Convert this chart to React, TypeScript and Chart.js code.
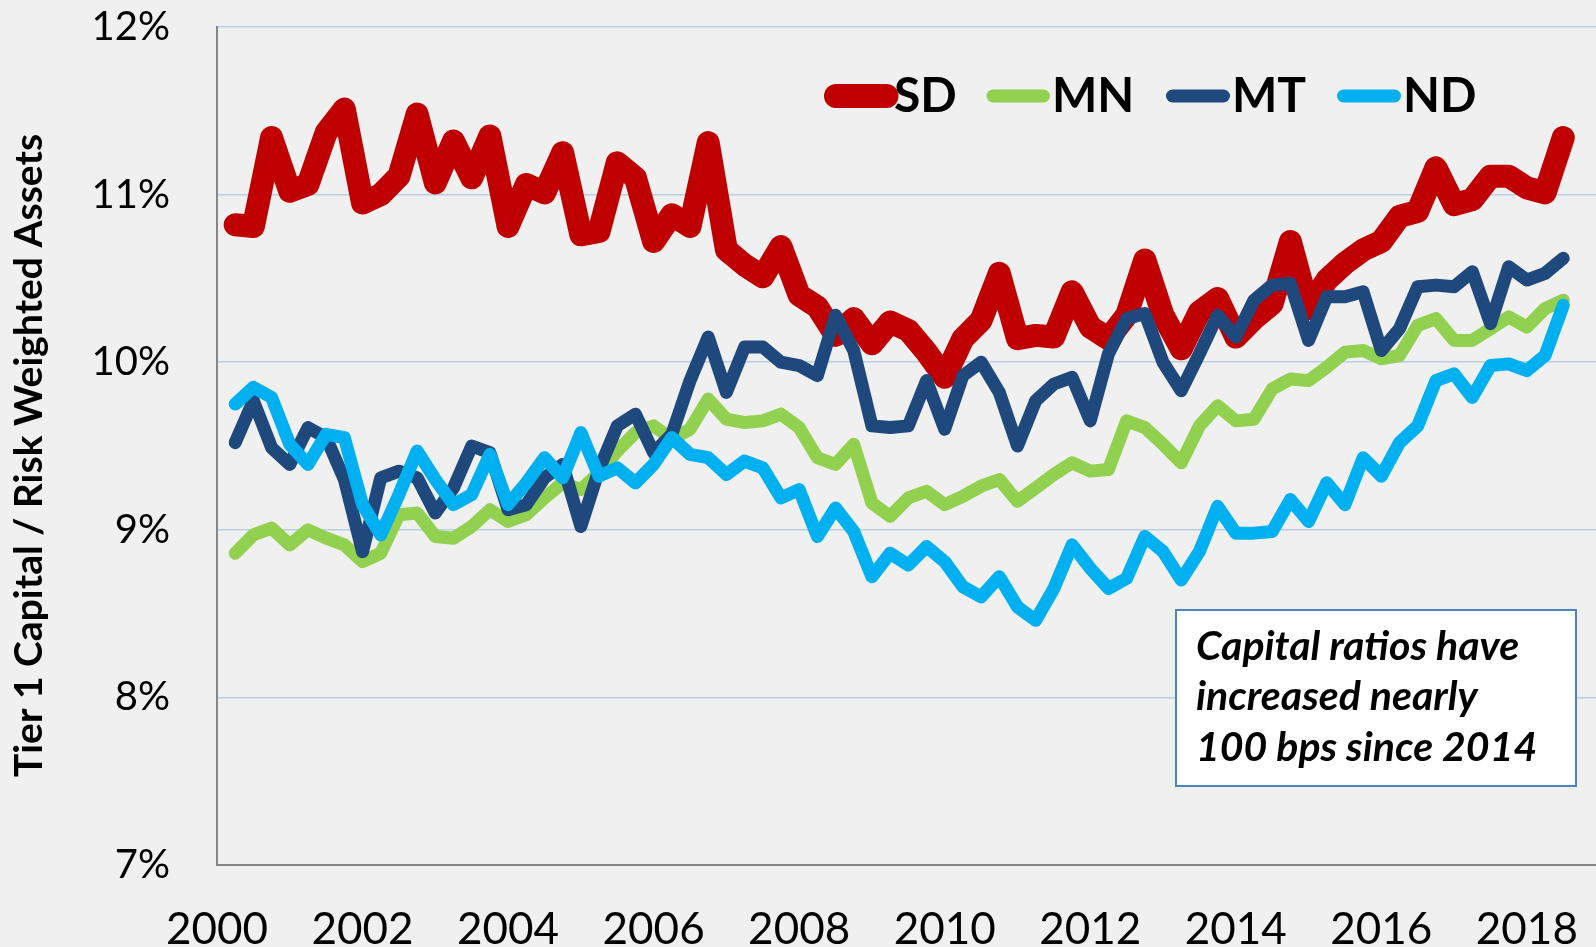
import React, { useEffect, useRef } from "react";
import { Chart, registerables } from "chart.js";

Chart.register(...registerables);

// ---- Data -------------------------------------------------------------
const firstYear = 2000;
const quarterCount = 74; // 2000 Q1 .. 2018 Q2
const quarters: number[] = Array.from({ length: quarterCount }, (_, i) => firstYear + 0.25 * (i + 1));

const xTickYears = [2000, 2002, 2004, 2006, 2008, 2010, 2012, 2014, 2016, 2018];
const yTickValues = [7, 8, 9, 10, 11, 12];

const seriesNames = ["SD", "MN", "MT", "ND"];
const seriesColors = ["#C00000", "#92D050", "#1F497D", "#00B0F0"];

const SD = [
  10.82, 10.81, 11.34, 11.02, 11.06, 11.37, 11.51, 10.95, 11.0, 11.11,
  11.48, 11.07, 11.32, 11.1, 11.35, 10.81, 11.06, 11.01, 11.25, 10.76,
  10.78, 11.19, 11.1, 10.72, 10.88, 10.81, 11.31, 10.67, 10.58, 10.51,
  10.69, 10.4, 10.33, 10.16, 10.26, 10.11, 10.24, 10.19, 10.06, 9.91,
  10.14, 10.25, 10.53, 10.14, 10.16, 10.15, 10.42, 10.21, 10.14, 10.28,
  10.61, 10.28, 10.08, 10.3, 10.38, 10.15, 10.26, 10.35, 10.72, 10.32,
  10.49, 10.59, 10.67, 10.72, 10.87, 10.9, 11.16, 10.94, 10.97, 11.11,
  11.11, 11.04, 11.01, 11.34,
];

const MN = [
  8.86, 8.97, 9.01, 8.91, 9.0, 8.95, 8.91, 8.81, 8.86, 9.09,
  9.1, 8.96, 8.95, 9.02, 9.12, 9.05, 9.09, 9.19, 9.28, 9.24,
  9.34, 9.47, 9.58, 9.62, 9.54, 9.6, 9.78, 9.66, 9.64, 9.65,
  9.69, 9.61, 9.43, 9.39, 9.51, 9.16, 9.08, 9.19, 9.23, 9.15,
  9.2, 9.26, 9.3, 9.17, 9.25, 9.33, 9.4, 9.35, 9.36, 9.65,
  9.61, 9.51, 9.4, 9.62, 9.74, 9.65, 9.66, 9.84, 9.9, 9.89,
  9.97, 10.06, 10.07, 10.02, 10.04, 10.22, 10.26, 10.13, 10.13, 10.2,
  10.27, 10.21, 10.32, 10.37,
];

const MT = [
  9.52, 9.77, 9.49, 9.39, 9.61, 9.55, 9.3, 8.87, 9.31, 9.35,
  9.31, 9.1, 9.25, 9.5, 9.46, 9.12, 9.15, 9.31, 9.39, 9.02,
  9.36, 9.62, 9.69, 9.46, 9.57, 9.89, 10.15, 9.82, 10.09, 10.09,
  10.0, 9.98, 9.92, 10.28, 10.07, 9.62, 9.61, 9.62, 9.89, 9.6,
  9.92, 10.0, 9.82, 9.5, 9.77, 9.87, 9.91, 9.65, 10.05, 10.26,
  10.29, 10.0, 9.83, 10.05, 10.28, 10.15, 10.37, 10.46, 10.47, 10.13,
  10.39, 10.39, 10.42, 10.07, 10.2, 10.45, 10.46, 10.45, 10.54, 10.23,
  10.57, 10.49, 10.53, 10.62,
];

const ND = [
  9.75, 9.85, 9.79, 9.51, 9.39, 9.57, 9.55, 9.15, 8.97, 9.21,
  9.47, 9.3, 9.15, 9.21, 9.45, 9.15, 9.28, 9.43, 9.31, 9.58,
  9.32, 9.37, 9.28, 9.39, 9.55, 9.45, 9.43, 9.33, 9.41, 9.37,
  9.19, 9.24, 8.96, 9.13, 8.99, 8.72, 8.86, 8.79, 8.9, 8.81,
  8.66, 8.6, 8.72, 8.54, 8.46, 8.65, 8.91, 8.77, 8.65, 8.71,
  8.96, 8.87, 8.7, 8.87, 9.14, 8.98, 8.98, 8.99, 9.18, 9.05,
  9.28, 9.15, 9.43, 9.32, 9.52, 9.62, 9.89, 9.93, 9.79, 9.98,
  9.99, 9.95, 10.04, 10.34,
];

const seriesValues = [SD, MN, MT, ND];
const seriesWidths = [23, 13, 13, 13];

const yAxisTitle = "Tier 1 Capital / Risk Weighted Assets";
const noteLines = ["Capital ratios have", "increased nearly", "100 bps since 2014"];

// ---- Plugins -----------------------------------------------------------
const bgPlugin = {
  id: "bgFill",
  beforeDraw(chart: any) {
    const { ctx, width, height } = chart;
    ctx.save();
    ctx.fillStyle = "#F0F0F0";
    ctx.fillRect(0, 0, width, height);
    ctx.restore();
  },
};

const legendPlugin = {
  id: "lineLegend",
  afterDraw(chart: any) {
    const ctx = chart.ctx;
    const lineStarts = [836, 993, 1172.5, 1343.5];
    const lineEnds = [886.5, 1043.5, 1223.5, 1394.5];
    const textStarts = [894, 1052, 1232, 1403];
    const lineY = 96;
    ctx.save();
    seriesNames.forEach((name, i) => {
      ctx.beginPath();
      ctx.strokeStyle = seriesColors[i];
      ctx.lineWidth = i === 0 ? 24 : 13;
      ctx.lineCap = "round";
      ctx.moveTo(lineStarts[i], lineY);
      ctx.lineTo(lineEnds[i], lineY);
      ctx.stroke();
      ctx.fillStyle = "#000";
      ctx.font = "bold 48px Lato";
      ctx.textBaseline = "alphabetic";
      ctx.textAlign = "left";
      ctx.fillText(name, textStarts[i], 112);
    });
    ctx.restore();
  },
};

const notePlugin = {
  id: "noteBox",
  afterDraw(chart: any) {
    const ctx = chart.ctx;
    ctx.save();
    ctx.fillStyle = "#FFFFFF";
    ctx.fillRect(1176, 610, 400, 176);
    ctx.strokeStyle = "#4F81BD";
    ctx.lineWidth = 2;
    ctx.strokeRect(1176, 610, 400, 176);
    ctx.fillStyle = "#000";
    ctx.font = "italic bold 41px Lato";
    ctx.textAlign = "left";
    ctx.textBaseline = "alphabetic";
    const baselines = [660, 710, 761];
    noteLines.forEach((t, i) => ctx.fillText(t, 1196, baselines[i]));
    ctx.restore();
  },
};

export default function App() {
  const canvasRef = useRef<HTMLCanvasElement | null>(null);

  useEffect(() => {
    if (!canvasRef.current) return;
    const datasets = seriesNames.map((name, i) => ({
      label: name,
      data: quarters.map((q, k) => ({ x: q, y: seriesValues[i][k] })),
      borderColor: seriesColors[i],
      backgroundColor: seriesColors[i],
      borderWidth: seriesWidths[i],
      borderJoinStyle: "round" as const,
      borderCapStyle: "round" as const,
      pointRadius: 0,
      tension: 0,
      fill: false,
      order: seriesNames.length - i,
    }));

    const chart = new Chart(canvasRef.current, {
      type: "line",
      data: { datasets },
      options: {
        responsive: false,
        animation: false,
        events: [],
        layout: { autoPadding: false, padding: { top: 27, left: 0, right: 0, bottom: 0 } },
        plugins: { legend: { display: false }, tooltip: { enabled: false } },
        scales: {
          x: {
            type: "linear",
            min: 2000,
            max: 2018.95,
            afterBuildTicks: (s: any) => {
              s.ticks = xTickYears.map((v) => ({ value: v }));
            },
            afterFit: (s: any) => {
              s.height = 82;
              s.paddingLeft = 0;
              s.paddingRight = 0;
            },
            ticks: {
              callback: (v: any) => String(v),
              font: { family: "Lato", size: 44 },
              color: "#000",
              padding: 38,
              maxRotation: 0,
              autoSkip: false,
              includeBounds: false,
            },
            grid: { display: false, drawTicks: false },
            border: { display: true, color: "#868686", width: 2 },
          },
          y: {
            type: "linear",
            min: 7,
            max: 12,
            afterBuildTicks: (s: any) => {
              s.ticks = yTickValues.map((v) => ({ value: v }));
            },
            afterFit: (s: any) => {
              s.width = 217;
              s.paddingTop = 0;
              s.paddingBottom = 0;
            },
            ticks: {
              callback: (v: any) => v + "%",
              font: { family: "Lato", size: 40 },
              color: "#000",
              padding: 47,
            },
            grid: {
              color: (c: any) => (c.tick && c.tick.value === 7 ? "rgba(0,0,0,0)" : "#B9CDE5"),
              lineWidth: 1.5,
              drawTicks: false,
            },
            border: { display: true, color: "#868686", width: 2 },
            title: {
              display: true,
              text: yAxisTitle + "  ",
              font: { family: "Lato", size: 39, weight: "bold" },
              color: "#000",
              padding: { top: 6, bottom: 0 },
            },
          },
        },
      },
      plugins: [bgPlugin, legendPlugin, notePlugin],
    });

    const fontSpecs = ["40px Lato", "44px Lato", "bold 48px Lato", "bold 39px Lato", "italic bold 41px Lato"];
    if ((document as any).fonts) {
      Promise.all(fontSpecs.map((f) => (document as any).fonts.load(f)))
        .then(() => chart.update())
        .catch(() => {});
    }
    return () => chart.destroy();
  }, []);

  return (
    <div style={{ position: "fixed", left: 0, top: 0, width: 1596, height: 947, background: "#F0F0F0" }}>
      <canvas ref={canvasRef} width={1596} height={947} style={{ width: 1596, height: 947, display: "block" }} />
    </div>
  );
}
